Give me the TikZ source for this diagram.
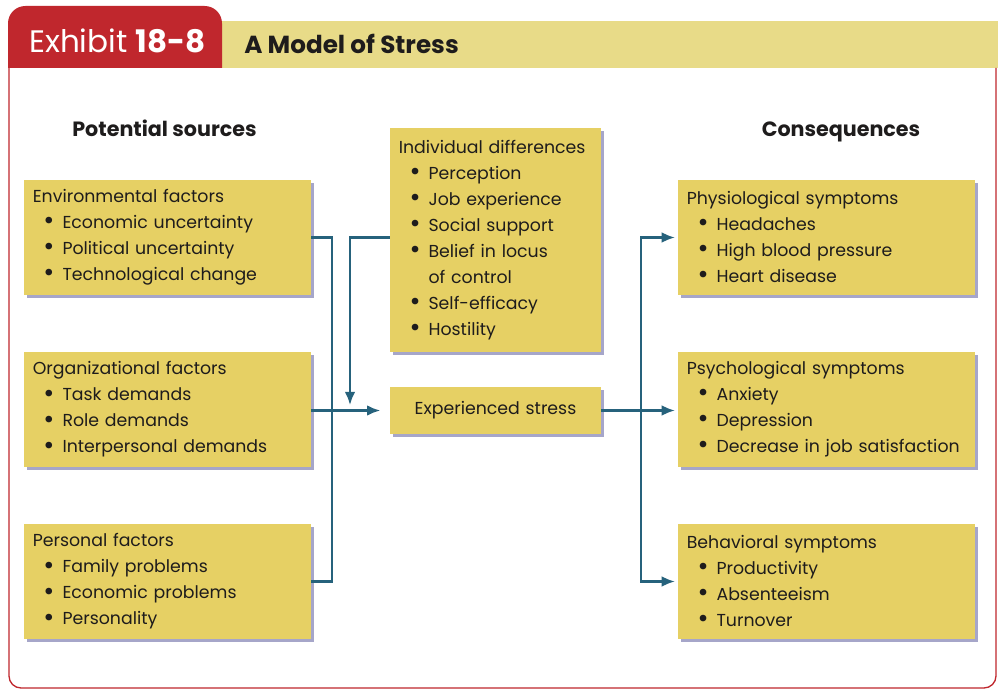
\documentclass[tikz,border=0pt]{standalone}
\usepackage{fontspec}
\setmainfont{Poppins}
\usetikzlibrary{arrows.meta,shadows}
\definecolor{boxy}{RGB}{230,208,100}
\definecolor{bandy}{RGB}{232,219,136}
\definecolor{exred}{RGB}{192,39,45}
\definecolor{conn}{RGB}{38,98,124}
\definecolor{ink}{RGB}{30,28,28}
\newcommand\mydot{\raisebox{-0.12ex}{\scalebox{1.55}{\textbullet}}}
\newcommand\myb{\hspace*{8pt}\mydot\hspace{6pt}}
\newcommand\myi{\hspace*{8pt}\phantom{\mydot}\hspace{6pt}}
\begin{document}
\begin{tikzpicture}[x=0.75pt,y=-0.75pt,
  box/.style={fill=boxy, draw=none, inner xsep=6.5pt, inner ysep=0pt, align=left,
    text=ink, font=\fontsize{13}{19.5}\selectfont,
    drop shadow={shadow xshift=2pt, shadow yshift=-2.5pt, fill=black!60!blue, opacity=0.35}},
  lbox/.style={box, minimum width=215.25pt, text width=202pt, minimum height=86.25pt},
  rbox/.style={box, minimum width=222.75pt, text width=209.5pt, minimum height=86.25pt},
  head/.style={anchor=base, inner sep=0pt, font=\fontsize{15.5}{18}\selectfont\bfseries, text=ink},
  link/.style={draw=conn, line width=1.9pt},
  arr/.style={link, -{Latex[length=10pt,width=8pt]}}
]
\useasboundingbox[fill=white] (0,0) rectangle (1003,692);
% header
\fill[bandy] (222,21) rectangle (998,68);
\fill[exred] (8,68) [rounded corners=13pt] -- (8,6) -- (222,6) [sharp corners] -- (222,68) -- cycle;
\draw[exred, line width=1pt, rounded corners=9pt] (9,68) -- (9,688) -- (996,688) -- (996,68);
\node (exh) [anchor=base west, inner sep=0pt, text=white, font=\fontsize{23.3}{26}\selectfont] at (29,53) {Exhibit \textbf{18-8}};
\node (ttl) [anchor=base west, inner sep=0pt, text=ink, font=\fontsize{18.5}{22}\selectfont\bfseries] at (244,54) {A Model of Stress};
% column heads
\node (hsrc) [head] at (164.5,137) {Potential sources};
\node (hcon) [head] at (841,137) {Consequences};
% left boxes
\node (env) [lbox] at (167.5,237.5) {Environmental factors\\\myb Economic uncertainty\\\myb Political uncertainty\\\myb Technological change};
\node (org) [lbox] at (167.5,409.5) {Organizational factors\\\myb Task demands\\\myb Role demands\\\myb Interpersonal demands};
\node (per) [lbox] at (167.5,581.5) {Personal factors\\\myb Family problems\\\myb Economic problems\\\myb Personality};
% middle
\node (ind) [box, minimum width=158.25pt, text width=145pt, minimum height=168pt] at (495.5,240) {Individual differences\\\myb Perception\\\myb Job experience\\\myb Social support\\\myb Belief in locus\\\myi of control\\\myb Self-efficacy\\\myb Hostility};
\node (str) [box, minimum width=158.25pt, text width=145pt, minimum height=35.25pt, align=center] at (495.5,410.5) {Experienced stress};
% right boxes
\node (phy) [rbox] at (826.5,237.5) {Physiological symptoms\\\myb Headaches\\\myb High blood pressure\\\myb Heart disease};
\node (psy) [rbox] at (826.5,409.5) {Psychological symptoms\\\myb Anxiety\\\myb Depression\\\myb Decrease in job satisfaction};
\node (beh) [rbox] at (826.5,581.5) {Behavioral symptoms\\\myb Productivity\\\myb Absenteeism\\\myb Turnover};
% connectors
\coordinate (lj) at (332,410.5);
\coordinate (rj) at (641,410.5);
\coordinate (dj) at (350,410.5);
\draw[link] (env.east) -| (lj);
\draw[link] (per.east) -| (lj);
\draw[arr, shorten >=7pt] (org.east |- lj) -- (str.west);
\draw[arr, shorten >=4pt] (ind.west |- env.east) -| (dj);
\draw[arr, shorten >=2pt] (str.east) -- (psy.west |- rj);
\draw[arr, shorten >=2pt] (rj) |- (phy.west);
\draw[arr, shorten >=2pt] (rj) |- (beh.west);
\end{tikzpicture}
\end{document}
